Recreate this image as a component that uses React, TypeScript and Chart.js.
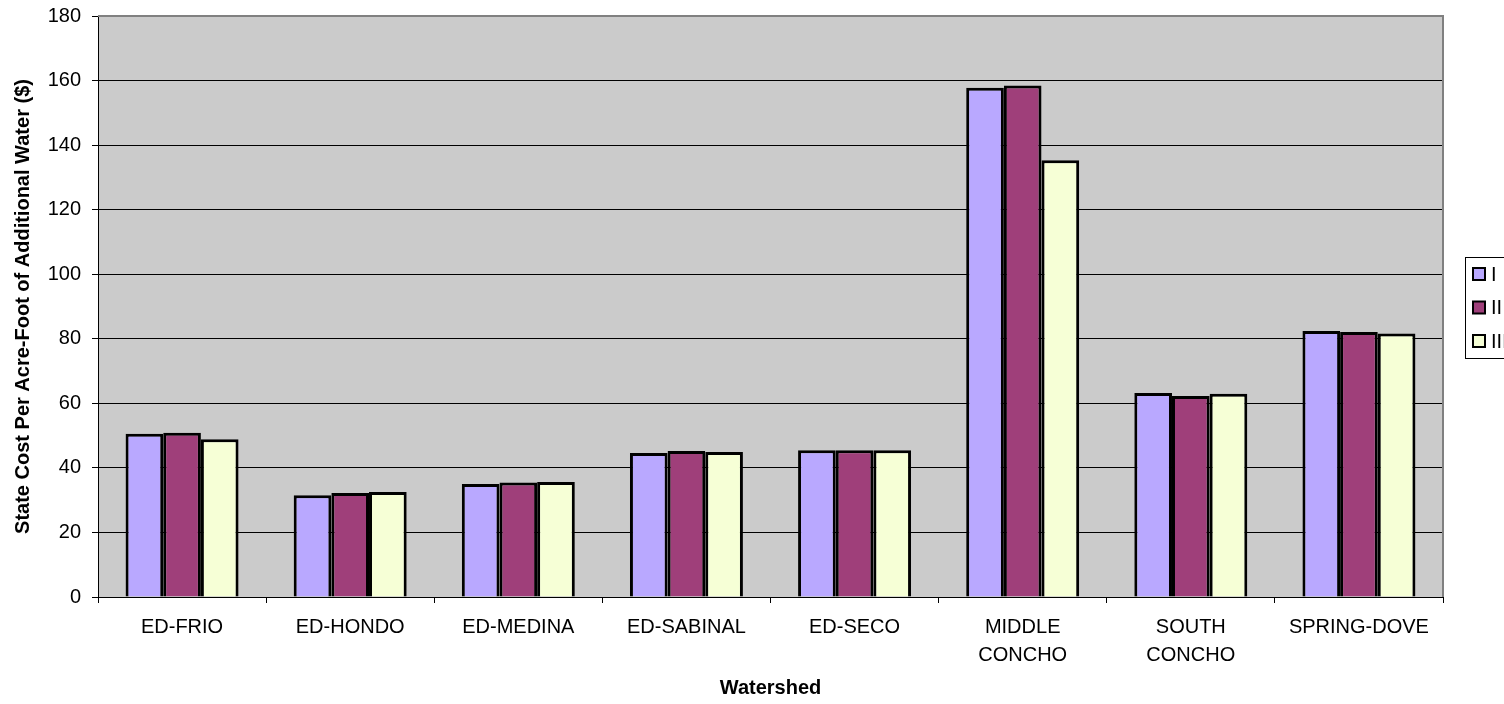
import React, { useEffect, useRef } from 'react';
import { Chart, registerables } from 'chart.js';

Chart.register(...registerables);

const categories: (string | string[])[] = [
  'ED-FRIO',
  'ED-HONDO',
  'ED-MEDINA',
  'ED-SABINAL',
  'ED-SECO',
  ['MIDDLE', 'CONCHO'],
  ['SOUTH', 'CONCHO'],
  'SPRING-DOVE',
];
const seriesNames = ['I', 'II', 'III'];
const seriesI = [50.6, 31.5, 35.0, 44.6, 45.5, 157.8, 63.2, 82.4];
const seriesII = [50.9, 32.2, 35.5, 45.2, 45.5, 158.5, 62.3, 82.1];
const seriesIII = [48.9, 32.5, 35.6, 44.9, 45.5, 135.3, 63.0, 81.6];
const seriesColors = ['#B9A8FF', '#9F3F7A', '#F6FFD6'];

const yTitle = 'State Cost Per Acre-Foot of Additional Water ($)';
const xTitle = 'Watershed';
const FONT = '"Liberation Sans", Arial, sans-serif';

const chromePlugin = {
  id: 'chrome',
  beforeDraw(chart: any) {
    const { ctx, chartArea: a } = chart;
    ctx.save();
    ctx.fillStyle = '#ffffff';
    ctx.fillRect(0, 0, chart.width, chart.height);
    ctx.fillStyle = '#CBCBCB';
    ctx.fillRect(a.left, a.top, a.right - a.left, a.bottom - a.top);
    ctx.restore();
  },
  afterDraw(chart: any) {
    const { ctx, chartArea: a } = chart;
    ctx.save();
    // plot border (top/right)
    ctx.strokeStyle = '#808080';
    ctx.lineWidth = 2;
    ctx.beginPath();
    ctx.moveTo(a.left, a.top);
    ctx.lineTo(a.right, a.top);
    ctx.lineTo(a.right, a.bottom);
    ctx.stroke();

    // axis titles
    ctx.fillStyle = '#000';
    ctx.font = `bold 20px ${FONT}`;
    ctx.textAlign = 'center';
    ctx.textBaseline = 'middle';
    ctx.fillText(xTitle, (a.left + a.right) / 2, 688);
    ctx.translate(23, (a.top + a.bottom) / 2);
    ctx.rotate(-Math.PI / 2);
    ctx.fillText(yTitle, 0, 0);
    ctx.restore();

    // legend
    ctx.save();
    ctx.strokeStyle = '#000';
    ctx.lineWidth = 1;
    ctx.strokeRect(1465.5, 257.5, 80, 101);
    ctx.font = `20px ${FONT}`;
    ctx.textAlign = 'left';
    ctx.textBaseline = 'middle';
    seriesNames.forEach((name, i) => {
      const cy = 274 + i * 33.5;
      ctx.fillStyle = seriesColors[i];
      ctx.fillRect(1473, cy - 6, 12, 12);
      ctx.strokeStyle = '#000';
      ctx.lineWidth = 2;
      ctx.strokeRect(1473, cy - 6, 12, 12);
      ctx.fillStyle = '#000';
      ctx.fillText(name, 1491, cy + 1);
    });
    ctx.restore();
  },
};

export default function App() {
  const canvasRef = useRef<HTMLCanvasElement>(null);

  useEffect(() => {
    document.body.style.margin = '0';
    const canvas = canvasRef.current;
    if (!canvas) return;
    const data = [seriesI, seriesII, seriesIII];
    const chart = new Chart(canvas, {
      type: 'bar',
      data: {
        labels: categories as any,
        datasets: data.map((d, i) => ({
          label: seriesNames[i],
          data: d,
          backgroundColor: seriesColors[i],
          borderColor: '#000',
          borderWidth: 3,
          categoryPercentage: 0.672,
          barPercentage: 1,
        })),
      },
      options: {
        responsive: false,
        animation: false,
        devicePixelRatio: 1,
        layout: { padding: { top: 16, right: 61, left: 0, bottom: 0 } },
        plugins: {
          legend: { display: false },
          tooltip: { enabled: false },
          title: { display: false },
        },
        scales: {
          x: {
            offset: true,
            grid: {
              offset: true,
              drawOnChartArea: false,
              drawTicks: true,
              tickLength: 6,
              color: '#000',
            },
            border: { display: true, color: '#000', width: 1 },
            ticks: {
              color: '#000',
              font: { family: FONT, size: 20, lineHeight: 1.4 },
              padding: 10,
              maxRotation: 0,
              autoSkip: false,
            },
            afterFit(scale: any) {
              scale.height = 107;
              scale.paddingLeft = 0;
              scale.paddingRight = 0;
            },
          },
          y: {
            min: 0,
            max: 180,
            grid: {
              color: '#000',
              lineWidth: 1,
              drawTicks: true,
              tickLength: 6,
            },
            border: { display: true, color: '#000', width: 1 },
            ticks: {
              stepSize: 20,
              color: '#000',
              font: { family: FONT, size: 20 },
              padding: 11,
            },
            afterFit(scale: any) {
              scale.width = 98;
              scale.paddingTop = 0;
              scale.paddingBottom = 0;
            },
          },
        },
      },
      plugins: [chromePlugin],
    });
    return () => chart.destroy();
  }, []);

  return (
    <div style={{ position: 'absolute', left: 0, top: 0, width: 1504, height: 704, background: '#fff' }}>
      <canvas ref={canvasRef} width={1504} height={704} />
    </div>
  );
}
